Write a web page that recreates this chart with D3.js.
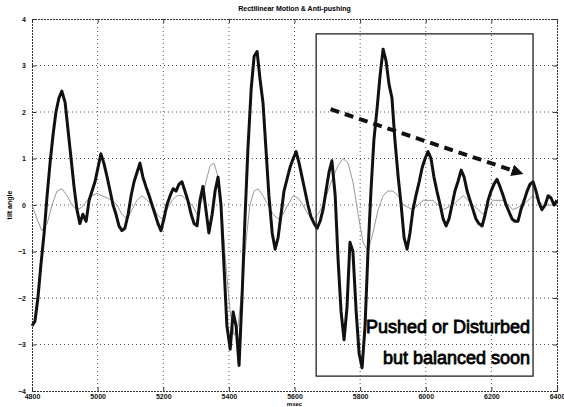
<!DOCTYPE html>
<html>
<head>
<meta charset="utf-8">
<script src="https://cdn.jsdelivr.net/npm/d3@7"></script>
<style>
  body { margin: 0; background: #fff; }
  svg { display: block; font-family: "Liberation Sans", Arial, sans-serif; }
</style>
</head>
<body>
<svg id="chart" width="564" height="407"></svg>
<script>
const xTicks = [4800, 5000, 5200, 5400, 5600, 5800, 6000, 6200, 6400]
const yTicks = [-4, -3, -2, -1, 0, 1, 2, 3, 4]

// thick trace (measured tilt): msec / angle
const tiltX = [4800,4809,4818,4827,4837,4846,4855,4864,4873,4882,4891,4901,4910,4919,4928,4937,4946,4955,4965,4974,4983,4992,5001,5010,5019,5029,5038,5047,5056,5065,5074,5083,5093,5102,5111,5120,5129,5138,5147,5157,5166,5175,5184,5193,5202,5211,5221,5230,5239,5248,5257,5266,5275,5285,5294,5303,5312,5321,5330,5339,5349,5358,5367,5376,5385,5394,5404,5413,5422,5431,5440,5449,5458,5468,5477,5486,5495,5504,5513,5522,5532,5541,5550,5559,5568,5577,5586,5596,5605,5614,5623,5632,5641,5650,5660,5669,5678,5687,5696,5705,5714,5724,5733,5742,5751,5760,5769,5778,5788,5797,5806,5815,5824,5833,5842,5852,5861,5870,5879,5888,5897,5906,5916,5925,5934,5943,5952,5961,5970,5980,5989,5998,6007,6016,6025,6034,6044,6053,6062,6071,6080,6089,6098,6108,6117,6126,6135,6144,6153,6162,6172,6181,6190,6199,6208,6217,6226,6236,6245,6254,6263,6272,6281,6290,6300,6309,6318,6327,6336,6345,6354,6364,6373,6382,6391,6400]
const tiltY = [-2.6,-2.5,-2.0,-1.3,-0.6,0.2,0.9,1.5,2.0,2.3,2.45,2.2,1.6,1.0,0.4,-0.1,-0.4,-0.2,-0.35,0.1,0.3,0.5,0.8,1.1,0.9,0.6,0.3,0.0,-0.2,-0.45,-0.55,-0.5,-0.2,0.2,0.5,0.7,0.9,0.6,0.4,0.2,0.0,-0.2,-0.4,-0.55,-0.3,0.0,0.2,0.35,0.3,0.45,0.5,0.3,0.1,-0.2,-0.4,-0.45,0.1,0.4,-0.1,-0.6,-0.2,0.3,0.6,0.0,-1.3,-2.6,-3.1,-2.3,-2.6,-3.45,-2.0,-0.3,1.2,2.5,3.2,3.3,2.7,2.2,1.2,0.2,-0.6,-0.95,-0.7,-0.2,0.3,0.55,0.8,1.0,1.15,0.9,0.6,0.3,0.0,-0.25,-0.4,-0.5,-0.35,-0.1,0.3,0.7,0.95,0.2,-1.2,-2.3,-2.9,-2.2,-0.8,-1.0,-2.3,-3.2,-3.5,-2.6,-1.0,0.3,1.4,2.1,2.8,3.35,3.1,2.6,2.3,1.4,0.6,0.0,-0.7,-0.95,-0.6,-0.1,0.2,0.5,0.8,1.0,1.15,1.0,0.6,0.3,0.0,-0.3,-0.45,-0.3,0.0,0.3,0.5,0.75,0.6,0.3,0.1,-0.1,-0.3,-0.4,-0.45,-0.2,0.1,0.3,0.45,0.55,0.4,0.2,0.0,-0.15,-0.3,-0.35,-0.35,-0.1,0.1,0.3,0.45,0.5,0.3,0.05,-0.1,0.0,0.2,0.15,0.0,0.1]

// thin reference trace
const refX = [4800,4815,4830,4846,4861,4876,4891,4907,4922,4937,4952,4968,4983,4998,5013,5029,5044,5059,5074,5090,5105,5120,5135,5151,5166,5181,5196,5211,5227,5242,5257,5272,5288,5303,5318,5330,5343,5355,5367,5379,5391,5404,5416,5428,5440,5452,5464,5477,5489,5504,5519,5535,5550,5565,5580,5596,5611,5626,5641,5656,5672,5687,5702,5717,5733,5748,5763,5778,5794,5809,5824,5839,5855,5870,5885,5900,5916,5931,5961,5992,6022,6053,6083,6114,6144,6175,6205,6236,6266,6297,6327,6358,6400]
const refY = [0.0,-0.3,-0.55,-0.4,0.0,0.3,0.35,0.2,0.0,-0.1,-0.05,0.1,0.2,0.25,0.2,0.15,0.1,0.0,-0.2,-0.3,-0.1,0.1,0.2,0.1,0.0,-0.2,-0.3,-0.1,0.1,0.2,0.2,0.1,0.0,-0.2,0.1,0.5,0.85,0.9,0.6,-0.2,-1.3,-2.3,-2.8,-2.6,-1.8,-0.8,0.0,0.3,0.35,0.2,0.0,-0.2,-0.3,-0.2,0.0,0.2,0.15,0.0,-0.2,-0.3,-0.2,0.0,0.3,0.6,0.85,1.0,0.9,0.5,-0.2,-0.8,-1.0,-0.6,-0.1,0.2,0.3,0.3,0.2,0.0,-0.1,0.1,0.1,-0.1,0.0,0.2,0.0,-0.2,0.1,0.1,-0.1,0.0,0.2,0.0,0.0]

const title = 'Rectilinear Motion & Anti-pushing'
const xLabel = 'msec'
const yLabel = 'tilt angle'
const noteLines = ['Pushed or Disturbed', 'but balanced soon']
// annotation box and trend arrow, in data units
const boxX = [5666, 6327]
const boxY = [-3.68, 3.68]
const arrowX = [5710, 6270]
const arrowY = [2.06, 0.73]

const width = 564
const height = 407
const margin = { top: 19, right: 7, bottom: 16, left: 32 }

const svg = d3.select('#chart')

const x = d3.scaleLinear()
    .domain([4800, 6400])
    .range([margin.left, width - margin.right])
const y = d3.scaleLinear()
    .domain([-4, 4])
    .range([height - margin.bottom, margin.top])

// grid
const grid = svg.append('g')
    .attr('stroke', '#555')
    .attr('stroke-width', 1)
    .attr('stroke-dasharray', '1,3')
grid.selectAll('line.v').data(xTicks.slice(1, -1)).join('line')
    .attr('x1', d => x(d)).attr('x2', d => x(d))
    .attr('y1', y(4)).attr('y2', y(-4))
grid.selectAll('line.h').data(yTicks.slice(1, -1)).join('line')
    .attr('y1', d => y(d)).attr('y2', d => y(d))
    .attr('x1', x(4800)).attr('x2', x(6400))

// axes
svg.append('g')
    .attr('transform', `translate(0,${y(-4)})`)
    .call(d3.axisBottom(x).tickValues(xTicks).tickFormat(d3.format('d')).tickSize(-4).tickPadding(3))
svg.append('g')
    .attr('transform', `translate(${x(4800)},0)`)
    .call(d3.axisLeft(y).tickValues(yTicks).tickFormat(d3.format('d')).tickSize(-4).tickPadding(6))
svg.append('g')
    .attr('transform', `translate(0,${y(4)})`)
    .call(d3.axisTop(x).tickValues(xTicks).tickFormat('').tickSize(-4))
svg.append('g')
    .attr('transform', `translate(${x(6400)},0)`)
    .call(d3.axisRight(y).tickValues(yTicks).tickFormat('').tickSize(-4))

svg.selectAll('.domain').attr('stroke', '#333').attr('stroke-dasharray', '2,1')
svg.selectAll('.tick line').attr('stroke', '#333')
svg.selectAll('.tick text')
    .attr('font-size', 7)
    .attr('font-weight', 'bold')
    .attr('fill', '#111')
    .attr('font-family', '"Liberation Sans", Arial, sans-serif')

// traces
const line = d3.line()
    .x(d => x(d[0]))
    .y(d => y(d[1]))

svg.append('path')
    .datum(d3.zip(refX, refY))
    .attr('fill', 'none')
    .attr('stroke', '#999')
    .attr('stroke-width', 1)
    .attr('d', line)

svg.append('path')
    .datum(d3.zip(tiltX, tiltY))
    .attr('fill', 'none')
    .attr('stroke', '#111')
    .attr('stroke-width', 3)
    .attr('stroke-linejoin', 'round')
    .attr('d', line)

// annotation box
svg.append('rect')
    .attr('x', x(boxX[0]))
    .attr('y', y(boxY[1]))
    .attr('width', x(boxX[1]) - x(boxX[0]))
    .attr('height', y(boxY[0]) - y(boxY[1]))
    .attr('fill', 'none')
    .attr('stroke', '#222')
    .attr('stroke-width', 1.3)

// dashed trend arrow
svg.append('defs').append('marker')
    .attr('id', 'head')
    .attr('viewBox', '0 0 10 10')
    .attr('refX', 2).attr('refY', 5)
    .attr('markerWidth', 3).attr('markerHeight', 3)
    .attr('orient', 'auto')
  .append('path')
    .attr('d', 'M0,0L10,5L0,10z')
    .attr('fill', '#111')

svg.append('line')
    .attr('x1', x(arrowX[0])).attr('y1', y(arrowY[0]))
    .attr('x2', x(arrowX[1])).attr('y2', y(arrowY[1]))
    .attr('stroke', '#111')
    .attr('stroke-width', 4)
    .attr('stroke-dasharray', '9,6')
    .attr('marker-end', 'url(#head)')

svg.selectAll('text.note').data(noteLines).join('text')
    .attr('class', 'note')
    .attr('x', x(6318))
    .attr('y', (d, i) => y(-2.75) + i * 31)
    .attr('text-anchor', 'end')
    .attr('font-size', 18)
    .attr('fill', '#000')
    .attr('stroke', '#000')
    .attr('stroke-width', 0.8)
    .attr('paint-order', 'stroke')
    .text(d => d)

// labels
svg.append('text')
    .attr('x', x(5600))
    .attr('y', 11)
    .attr('text-anchor', 'middle')
    .attr('font-size', 7)
    .attr('font-weight', 'bold')
    .text(title)

svg.append('text')
    .attr('x', x(5600))
    .attr('y', 406)
    .attr('text-anchor', 'middle')
    .attr('font-size', 6)
    .attr('font-weight', 'bold')
    .text(xLabel)

svg.append('text')
    .attr('transform', `translate(12,${y(0)}) rotate(-90)`)
    .attr('text-anchor', 'middle')
    .attr('font-size', 7)
    .attr('font-weight', 'bold')
    .text(yLabel)
</script>
</body>
</html>
